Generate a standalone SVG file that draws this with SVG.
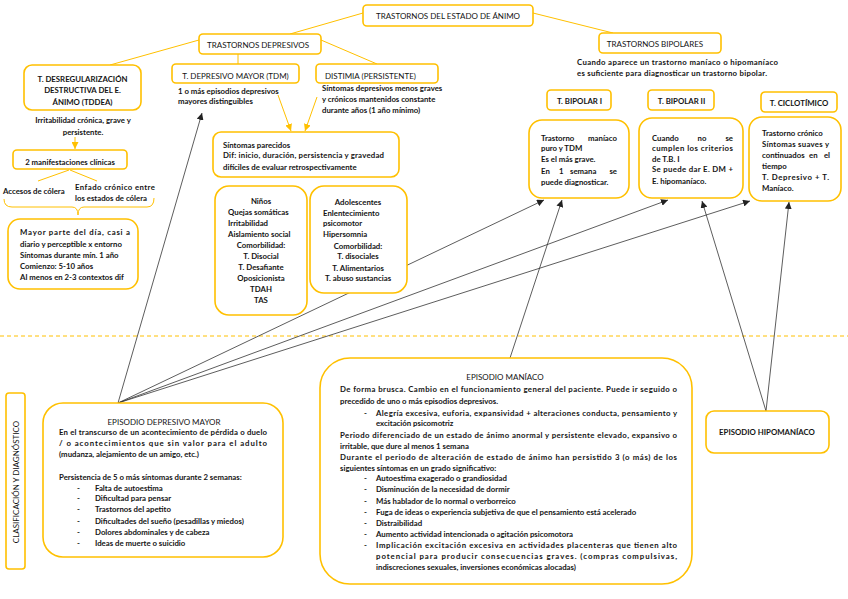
<svg xmlns="http://www.w3.org/2000/svg" width="848" height="599" viewBox="0 0 848 599">
<defs>
<style>
.t{font-family:Lato,"Liberation Sans",sans-serif;font-size:7.8px;fill:#141414;font-weight:bold}
.n{font-weight:normal;font-size:8px}
.c{text-anchor:middle}
.e{text-anchor:end}
.box{fill:#fff;stroke:#FFC000;stroke-width:1.6}
.yl{stroke:#FFC000;stroke-width:1;fill:none}
.ya{stroke:#FFC000;stroke-width:1;fill:none;marker-end:url(#ya)}
.ln{stroke:#333;stroke-width:0.8;fill:none;marker-end:url(#ah)}
</style>
<marker id="ah" viewBox="0 0 10 10" refX="10" refY="5" markerWidth="7" markerHeight="7" orient="auto" markerUnits="userSpaceOnUse"><path d="M0,0 L10,5 L0,10 z" fill="#222"/></marker>
<marker id="ya" viewBox="0 0 10 10" refX="10" refY="5" markerWidth="7" markerHeight="7" orient="auto" markerUnits="userSpaceOnUse"><path d="M0,0 L10,5 L0,10 z" fill="#FFC000"/></marker>
</defs>
<rect width="848" height="599" fill="#fff"/>

<g id="connectors">
<line class="yl" x1="363" y1="13" x2="290" y2="34"/>
<line class="yl" x1="533" y1="13" x2="613" y2="33"/>
<line class="yl" x1="199" y1="40" x2="110" y2="65"/>
<line class="yl" x1="238" y1="54" x2="238" y2="64"/>
<line class="yl" x1="321" y1="40" x2="377" y2="64"/>
<line class="yl" x1="69" y1="170" x2="38" y2="181"/>
<line class="yl" x1="70" y1="170" x2="97" y2="181"/>
<path class="yl" d="M4,199 Q4,207 12,207 L72,207 Q78,207 78,215 Q78,207 84,207 L147,207 Q154,207 154,198"/>
<line class="ya" x1="75" y1="137" x2="75" y2="149"/>
<line class="ya" x1="278" y1="95" x2="291" y2="131"/>
<line class="ya" x1="317" y1="97" x2="305" y2="131"/>
<line class="yl" x1="0" y1="336" x2="848" y2="336" stroke-dasharray="4 3" stroke-width="1.2"/>
<line class="ln" x1="118" y1="403" x2="202" y2="113"/>
<line class="ln" x1="118" y1="403" x2="544" y2="200"/>
<line class="ln" x1="118" y1="403" x2="668" y2="200"/>
<line class="ln" x1="118" y1="403" x2="750" y2="201"/>
<line class="ln" x1="510" y1="358" x2="562" y2="200"/>
<line class="ln" x1="766" y1="411" x2="702" y2="201"/>
<line class="ln" x1="766" y1="411" x2="789" y2="202"/>
</g>

<g id="n-root">
<rect class="box" x="363" y="5" width="170" height="21" rx="4"/>
<text class="t n c" x="448" y="19">TRASTORNOS DEL ESTADO DE ÁNIMO</text>
</g>
<g id="n-depresivos">
<rect class="box" x="199" y="34" width="122" height="20" rx="4"/>
<text class="t n c" x="258" y="48">TRASTORNOS DEPRESIVOS</text>
</g>
<g id="n-bipolares">
<rect class="box" x="599" y="33" width="122" height="20" rx="4"/>
<text class="t n c" x="655" y="47">TRASTORNOS BIPOLARES</text>
<text class="t" x="577" y="65" textLength="201">Cuando aparece un trastorno maníaco o hipomaníaco</text>
<text class="t" x="577" y="76" textLength="190">es suficiente para diagnosticar un trastorno bipolar.</text>
</g>

<g id="n-tddea">
<rect class="box" x="24" y="65" width="117" height="45" rx="8"/>
<text class="t c" x="82.5" y="82">T. DESREGULARIZACIÓN</text>
<text class="t c" x="82.5" y="93">DESTRUCTIVA DEL E.</text>
<text class="t c" x="82.5" y="105">ÁNIMO (TDDEA)</text>
<text class="t c" x="83" y="123">Irritabilidad crónica, grave y</text>
<text class="t c" x="83" y="135">persistente.</text>
</g>
<g id="n-manifestaciones">
<rect class="box" x="13" y="150" width="114" height="19" rx="4"/>
<text class="t c" x="70" y="165">2 manifestaciones clínicas</text>
<text class="t" x="3" y="194">Accesos de cólera</text>
<text class="t" x="75" y="190" textLength="80">Enfado crónico entre</text>
<text class="t" x="75" y="201">los estados de cólera</text>
</g>
<g id="n-mayorparte">
<rect class="box" x="8" y="219" width="130" height="70" rx="12"/>
<text class="t" x="20" y="235" textLength="110">Mayor parte del día, casi a</text>
<text class="t" x="20" y="247">diario y perceptible x entorno</text>
<text class="t" x="20" y="258">Síntomas durante mín. 1 año</text>
<text class="t" x="20" y="269">Comienzo: 5-10 años</text>
<text class="t" x="20" y="280">Al menos en 2-3 contextos dif</text>
</g>

<g id="n-tdm">
<rect class="box" x="172" y="64" width="127" height="19" rx="4"/>
<text class="t n c" x="235.5" y="79">T. DEPRESIVO MAYOR (TDM)</text>
<text class="t" x="178" y="94">1 o más episodios depresivos</text>
<text class="t" x="178" y="104">mayores distinguibles</text>
</g>
<g id="n-distimia">
<rect class="box" x="316" y="64" width="122" height="19" rx="4"/>
<text class="t n" x="325" y="79">DISTIMIA (PERSISTENTE)</text>
<text class="t" x="322" y="91">Síntomas depresivos menos graves</text>
<text class="t" x="322" y="102">y crónicos mantenidos constante</text>
<text class="t" x="322" y="113">durante años (1 año mínimo)</text>
</g>
<g id="n-parecidos">
<rect class="box" x="213" y="132" width="186" height="45" rx="8"/>
<text class="t" x="223" y="148">Síntomas parecidos</text>
<text class="t" x="223" y="158" textLength="161">Dif: inicio, duración, persistencia y gravedad</text>
<text class="t" x="223" y="170">difíciles de evaluar retrospectivamente</text>
</g>
<g id="n-ninos">
<rect class="box" x="215" y="186" width="92" height="129" rx="14"/>
<text class="t c" x="261" y="204">Niños</text>
<text class="t" x="228" y="215">Quejas somáticas</text>
<text class="t" x="228" y="226">Irritabilidad</text>
<text class="t" x="228" y="237">Aislamiento social</text>
<text class="t c" x="261" y="248">Comorbilidad:</text>
<text class="t c" x="261" y="259">T. Disocial</text>
<text class="t c" x="261" y="270">T. Desafiante</text>
<text class="t c" x="261" y="281">Oposicionista</text>
<text class="t c" x="261" y="292">TDAH</text>
<text class="t c" x="261" y="303">TAS</text>
</g>
<g id="n-adolescentes">
<rect class="box" x="310" y="186" width="97" height="107" rx="14"/>
<text class="t c" x="358" y="205">Adolescentes</text>
<text class="t" x="323" y="216">Enlentecimiento</text>
<text class="t" x="323" y="226">psicomotor</text>
<text class="t" x="323" y="237">Hipersomnia</text>
<text class="t c" x="358" y="249">Comorbilidad:</text>
<text class="t c" x="358" y="259">T. disociales</text>
<text class="t c" x="358" y="271">T. Alimentarios</text>
<text class="t c" x="358" y="281">T. abuso sustancias</text>
</g>

<g id="n-bipolar1">
<rect class="box" x="547" y="90" width="64" height="20" rx="4"/>
<text class="t c" x="579.5" y="104">T. BIPOLAR I</text>
<rect class="box" x="529" y="120" width="100" height="78" rx="13"/>
<text class="t" x="541" y="141">Trastorno</text><text class="t e" x="617" y="141">maníaco</text>
<text class="t" x="541" y="151">puro y TDM</text>
<text class="t" x="541" y="162">Es el más grave.</text>
<text class="t" x="541" y="174">En</text><text class="t" x="559" y="174">1</text><text class="t" x="570" y="174">semana</text><text class="t e" x="617" y="174">se</text>
<text class="t" x="541" y="185">puede diagnosticar.</text>
</g>
<g id="n-bipolar2">
<rect class="box" x="648" y="90" width="66" height="20" rx="4"/>
<text class="t c" x="681.5" y="104">T. BIPOLAR II</text>
<rect class="box" x="639" y="118" width="104" height="80" rx="13"/>
<text class="t" x="652" y="141">Cuando</text><text class="t c" x="702" y="141">no</text><text class="t e" x="733" y="141">se</text>
<text class="t" x="652" y="151" textLength="81">cumplen los criterios</text>
<text class="t" x="652" y="162">de T.B. I</text>
<text class="t" x="652" y="172" textLength="81">Se puede dar E. DM +</text>
<text class="t" x="652" y="184">E. hipomaníaco.</text>
</g>
<g id="n-ciclotimico">
<rect class="box" x="761" y="92" width="76" height="20" rx="4"/>
<text class="t c" x="799" y="106">T. CICLOTÍMICO</text>
<rect class="box" x="749" y="117" width="92" height="84" rx="13"/>
<text class="t" x="762" y="136">Trastorno crónico</text>
<text class="t" x="762" y="147" textLength="67">Síntomas suaves y</text>
<text class="t" x="762" y="158">continuados</text><text class="t" x="809" y="158">en</text><text class="t e" x="830" y="158">el</text>
<text class="t" x="762" y="169">tiempo</text>
<text class="t" x="762" y="180" textLength="67">T. Depresivo + T.</text>
<text class="t" x="762" y="191">Maníaco.</text>
</g>

<g id="n-clasificacion">
<rect class="box" x="6" y="393" width="19" height="176" rx="3"/>
<text class="t n c" transform="translate(18.5,482) rotate(-90)" x="0" y="0">CLASIFICACIÓN Y DIAGNÓSTICO</text>
</g>

<g id="n-edm">
<rect class="box" x="43" y="403" width="240" height="154" rx="20"/>
<text class="t n c" x="164" y="425">EPISODIO DEPRESIVO MAYOR</text>
<text class="t" x="59" y="435" textLength="208">En el transcurso de un acontecimiento de pérdida o duelo</text>
<text class="t" x="59" y="446" textLength="208">/ o acontecimientos que sin valor para el adulto</text>
<text class="t" x="59" y="457">(mudanza, alejamiento de un amigo, etc.)</text>
<text class="t" x="59" y="480">Persistencia de 5 o más síntomas durante 2 semanas:</text>
<text class="t" x="77" y="491">-</text><text class="t" x="95" y="491">Falta de autoestima</text>
<text class="t" x="77" y="501">-</text><text class="t" x="95" y="501">Dificultad para pensar</text>
<text class="t" x="77" y="512">-</text><text class="t" x="95" y="512">Trastornos del apetito</text>
<text class="t" x="77" y="524">-</text><text class="t" x="95" y="524">Dificultades del sueño (pesadillas y miedos)</text>
<text class="t" x="77" y="535">-</text><text class="t" x="95" y="535">Dolores abdominales y de cabeza</text>
<text class="t" x="77" y="546">-</text><text class="t" x="95" y="546">Ideas de muerte o suicidio</text>
</g>

<g id="n-maniaco">
<rect class="box" x="320" y="358" width="372" height="226" rx="30"/>
<text class="t n c" x="505" y="380">EPISODIO MANÍACO</text>
<text class="t" x="340" y="392" textLength="337">De forma brusca. Cambio en el funcionamiento general del paciente. Puede ir seguido o</text>
<text class="t" x="340" y="404">precedido de uno o más episodios depresivos.</text>
<text class="t" x="364" y="416">-</text>
<text class="t" x="376" y="416" textLength="301">Alegría excesiva, euforia, expansividad + alteraciones conducta, pensamiento y</text>
<text class="t" x="376" y="426">excitación psicomotriz</text>
<text class="t" x="340" y="438" textLength="337">Periodo diferenciado de un estado de ánimo anormal y persistente elevado, expansivo o</text>
<text class="t" x="340" y="449">irritable, que dure al menos 1 semana</text>
<text class="t" x="340" y="460" textLength="337">Durante el periodo de alteración de estado de ánimo han persistido 3 (o más) de los</text>
<text class="t" x="340" y="471">siguientes síntomas en un grado significativo:</text>
<text class="t" x="364" y="481">-</text><text class="t" x="376" y="481">Autoestima exagerado o grandiosidad</text>
<text class="t" x="364" y="492">-</text><text class="t" x="376" y="492">Disminución de la necesidad de dormir</text>
<text class="t" x="364" y="504">-</text><text class="t" x="376" y="504">Más hablador de lo normal o verborreico</text>
<text class="t" x="364" y="515">-</text><text class="t" x="376" y="515">Fuga de ideas o experiencia subjetiva de que el pensamiento está acelerado</text>
<text class="t" x="364" y="526">-</text><text class="t" x="376" y="526">Distraibilidad</text>
<text class="t" x="364" y="537">-</text><text class="t" x="376" y="537">Aumento actividad intencionada o agitación psicomotora</text>
<text class="t" x="364" y="548">-</text><text class="t" x="376" y="548" textLength="301">Implicación excitación excesiva en actividades placenteras que tienen alto</text>
<text class="t" x="376" y="559" textLength="301">potencial para producir consecuencias graves. (compras compulsivas,</text>
<text class="t" x="376" y="570">indiscreciones sexuales, inversiones económicas alocadas)</text>
</g>

<g id="n-hipomaniaco">
<rect class="box" x="706" y="411" width="123" height="42" rx="8"/>
<text class="t c" x="767" y="435">EPISODIO HIPOMANÍACO</text>
</g>
</svg>
